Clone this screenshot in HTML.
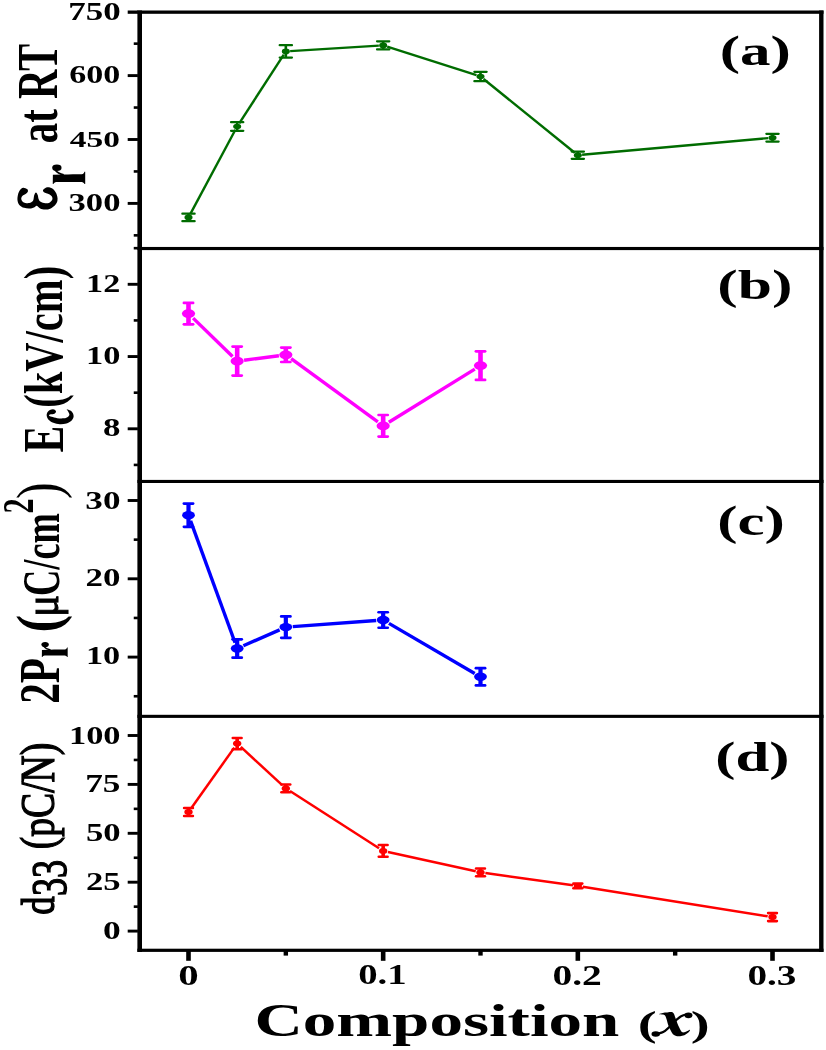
<!DOCTYPE html>
<html><head><meta charset="utf-8"><style>
html,body{margin:0;padding:0;background:#fff;}
svg{display:block;will-change:transform;}
text{font-family:"Liberation Serif",serif;fill:#000;}
</style></head><body>
<svg width="826" height="1050" viewBox="0 0 826 1050">
<rect width="826" height="1050" fill="#fff"/>
<rect x="137.40" y="10.50" width="4.60" height="941.40" fill="#000"/>
<rect x="819.10" y="10.50" width="4.40" height="941.40" fill="#000"/>
<rect x="137.40" y="10.50" width="686.10" height="3.30" fill="#000"/>
<rect x="137.40" y="246.95" width="686.10" height="3.15" fill="#000"/>
<rect x="137.40" y="479.90" width="686.10" height="3.10" fill="#000"/>
<rect x="137.40" y="714.80" width="686.10" height="3.10" fill="#000"/>
<rect x="137.40" y="948.70" width="686.10" height="3.20" fill="#000"/>
<rect x="127.70" y="10.50" width="10.20" height="3.30" fill="#000"/>
<rect x="127.70" y="74.15" width="10.20" height="2.90" fill="#000"/>
<rect x="127.70" y="138.05" width="10.20" height="2.90" fill="#000"/>
<rect x="127.70" y="201.95" width="10.20" height="2.90" fill="#000"/>
<rect x="133.75" y="42.35" width="4.15" height="2.60" fill="#000"/>
<rect x="133.75" y="106.25" width="4.15" height="2.60" fill="#000"/>
<rect x="133.75" y="170.15" width="4.15" height="2.60" fill="#000"/>
<rect x="133.75" y="234.05" width="4.15" height="2.60" fill="#000"/>
<rect x="127.70" y="282.85" width="10.20" height="2.90" fill="#000"/>
<rect x="127.70" y="355.10" width="10.20" height="2.90" fill="#000"/>
<rect x="127.70" y="427.35" width="10.20" height="2.90" fill="#000"/>
<rect x="133.75" y="246.88" width="4.15" height="2.60" fill="#000"/>
<rect x="133.75" y="319.12" width="4.15" height="2.60" fill="#000"/>
<rect x="133.75" y="391.38" width="4.15" height="2.60" fill="#000"/>
<rect x="133.75" y="463.62" width="4.15" height="2.60" fill="#000"/>
<rect x="127.70" y="499.05" width="10.20" height="2.90" fill="#000"/>
<rect x="127.70" y="577.35" width="10.20" height="2.90" fill="#000"/>
<rect x="127.70" y="655.65" width="10.20" height="2.90" fill="#000"/>
<rect x="133.75" y="538.35" width="4.15" height="2.60" fill="#000"/>
<rect x="133.75" y="616.65" width="4.15" height="2.60" fill="#000"/>
<rect x="133.75" y="694.95" width="4.15" height="2.60" fill="#000"/>
<rect x="127.70" y="734.05" width="10.20" height="2.90" fill="#000"/>
<rect x="127.70" y="782.95" width="10.20" height="2.90" fill="#000"/>
<rect x="127.70" y="831.85" width="10.20" height="2.90" fill="#000"/>
<rect x="127.70" y="880.75" width="10.20" height="2.90" fill="#000"/>
<rect x="127.70" y="929.65" width="10.20" height="2.90" fill="#000"/>
<rect x="133.75" y="758.65" width="4.15" height="2.60" fill="#000"/>
<rect x="133.75" y="807.55" width="4.15" height="2.60" fill="#000"/>
<rect x="133.75" y="856.45" width="4.15" height="2.60" fill="#000"/>
<rect x="133.75" y="905.35" width="4.15" height="2.60" fill="#000"/>
<rect x="186.20" y="950.00" width="4.60" height="10.80" fill="#000"/>
<rect x="380.87" y="950.00" width="4.60" height="10.80" fill="#000"/>
<rect x="575.53" y="950.00" width="4.60" height="10.80" fill="#000"/>
<rect x="770.20" y="950.00" width="4.60" height="10.80" fill="#000"/>
<rect x="283.63" y="950.00" width="4.40" height="5.60" fill="#000"/>
<rect x="478.30" y="950.00" width="4.40" height="5.60" fill="#000"/>
<rect x="672.97" y="950.00" width="4.40" height="5.60" fill="#000"/>
<line x1="190.26" y1="214.11" x2="235.41" y2="129.79" stroke="#006c00" stroke-width="2.4"/>
<line x1="239.22" y1="123.34" x2="283.78" y2="54.56" stroke="#006c00" stroke-width="2.4"/>
<line x1="290.12" y1="51.14" x2="378.88" y2="45.66" stroke="#006c00" stroke-width="2.4"/>
<line x1="387.18" y1="46.68" x2="476.48" y2="75.22" stroke="#006c00" stroke-width="2.4"/>
<line x1="483.59" y1="79.00" x2="574.74" y2="152.70" stroke="#006c00" stroke-width="2.4"/>
<line x1="582.11" y1="154.82" x2="768.22" y2="138.08" stroke="#006c00" stroke-width="2.4"/>
<rect x="187.20" y="213.65" width="2.60" height="7.50" fill="#006c00"/>
<rect x="181.25" y="212.55" width="14.50" height="2.20" rx="1.10" fill="#006c00"/>
<rect x="181.25" y="220.05" width="14.50" height="2.20" rx="1.10" fill="#006c00"/>
<ellipse cx="188.50" cy="217.40" rx="4.0" ry="2.8" fill="#006c00"/>
<rect x="235.87" y="122.15" width="2.60" height="8.70" fill="#006c00"/>
<rect x="229.92" y="121.05" width="14.50" height="2.20" rx="1.10" fill="#006c00"/>
<rect x="229.92" y="129.75" width="14.50" height="2.20" rx="1.10" fill="#006c00"/>
<ellipse cx="237.17" cy="126.50" rx="4.0" ry="2.8" fill="#006c00"/>
<rect x="284.53" y="45.20" width="2.60" height="12.40" fill="#006c00"/>
<rect x="278.58" y="44.10" width="14.50" height="2.20" rx="1.10" fill="#006c00"/>
<rect x="278.58" y="56.50" width="14.50" height="2.20" rx="1.10" fill="#006c00"/>
<ellipse cx="285.83" cy="51.40" rx="4.0" ry="2.8" fill="#006c00"/>
<rect x="381.87" y="41.35" width="2.60" height="8.10" fill="#006c00"/>
<rect x="375.92" y="40.25" width="14.50" height="2.20" rx="1.10" fill="#006c00"/>
<rect x="375.92" y="48.35" width="14.50" height="2.20" rx="1.10" fill="#006c00"/>
<ellipse cx="383.17" cy="45.40" rx="4.0" ry="2.8" fill="#006c00"/>
<rect x="479.20" y="71.85" width="2.60" height="9.30" fill="#006c00"/>
<rect x="473.25" y="70.75" width="14.50" height="2.20" rx="1.10" fill="#006c00"/>
<rect x="473.25" y="80.05" width="14.50" height="2.20" rx="1.10" fill="#006c00"/>
<ellipse cx="480.50" cy="76.50" rx="4.0" ry="2.8" fill="#006c00"/>
<rect x="576.53" y="151.60" width="2.60" height="7.20" fill="#006c00"/>
<rect x="570.58" y="150.50" width="14.50" height="2.20" rx="1.10" fill="#006c00"/>
<rect x="570.58" y="157.70" width="14.50" height="2.20" rx="1.10" fill="#006c00"/>
<ellipse cx="577.83" cy="155.20" rx="4.0" ry="2.8" fill="#006c00"/>
<rect x="771.20" y="133.80" width="2.60" height="7.80" fill="#006c00"/>
<rect x="765.25" y="132.70" width="14.50" height="2.20" rx="1.10" fill="#006c00"/>
<rect x="765.25" y="140.50" width="14.50" height="2.20" rx="1.10" fill="#006c00"/>
<ellipse cx="772.50" cy="137.70" rx="4.0" ry="2.8" fill="#006c00"/>
<line x1="193.12" y1="318.11" x2="232.55" y2="356.59" stroke="#ff00ff" stroke-width="3.4"/>
<line x1="244.09" y1="360.20" x2="278.91" y2="355.70" stroke="#ff00ff" stroke-width="3.4"/>
<line x1="291.16" y1="358.69" x2="377.84" y2="421.91" stroke="#ff00ff" stroke-width="3.4"/>
<line x1="388.84" y1="422.29" x2="474.82" y2="369.11" stroke="#ff00ff" stroke-width="3.4"/>
<rect x="186.20" y="302.90" width="4.60" height="21.40" fill="#ff00ff"/>
<rect x="182.55" y="301.55" width="11.90" height="2.70" rx="1.35" fill="#ff00ff"/>
<rect x="182.55" y="322.95" width="11.90" height="2.70" rx="1.35" fill="#ff00ff"/>
<ellipse cx="188.50" cy="313.60" rx="6.6" ry="4.4" fill="#ff00ff"/>
<rect x="234.87" y="346.60" width="4.60" height="29.00" fill="#ff00ff"/>
<rect x="231.22" y="345.25" width="11.90" height="2.70" rx="1.35" fill="#ff00ff"/>
<rect x="231.22" y="374.25" width="11.90" height="2.70" rx="1.35" fill="#ff00ff"/>
<ellipse cx="237.17" cy="361.10" rx="6.6" ry="4.4" fill="#ff00ff"/>
<rect x="283.53" y="347.60" width="4.60" height="14.40" fill="#ff00ff"/>
<rect x="279.88" y="346.25" width="11.90" height="2.70" rx="1.35" fill="#ff00ff"/>
<rect x="279.88" y="360.65" width="11.90" height="2.70" rx="1.35" fill="#ff00ff"/>
<ellipse cx="285.83" cy="354.80" rx="6.6" ry="4.4" fill="#ff00ff"/>
<rect x="380.87" y="415.00" width="4.60" height="21.60" fill="#ff00ff"/>
<rect x="377.22" y="413.65" width="11.90" height="2.70" rx="1.35" fill="#ff00ff"/>
<rect x="377.22" y="435.25" width="11.90" height="2.70" rx="1.35" fill="#ff00ff"/>
<ellipse cx="383.17" cy="425.80" rx="6.6" ry="4.4" fill="#ff00ff"/>
<rect x="478.20" y="351.30" width="4.60" height="28.60" fill="#ff00ff"/>
<rect x="474.55" y="349.95" width="11.90" height="2.70" rx="1.35" fill="#ff00ff"/>
<rect x="474.55" y="378.55" width="11.90" height="2.70" rx="1.35" fill="#ff00ff"/>
<ellipse cx="480.50" cy="365.60" rx="6.6" ry="4.4" fill="#ff00ff"/>
<line x1="190.59" y1="520.93" x2="235.08" y2="642.77" stroke="#0000ff" stroke-width="3.4"/>
<line x1="243.39" y1="645.76" x2="279.61" y2="629.84" stroke="#0000ff" stroke-width="3.4"/>
<line x1="292.81" y1="626.59" x2="376.19" y2="620.51" stroke="#0000ff" stroke-width="3.4"/>
<line x1="388.95" y1="623.38" x2="474.71" y2="673.42" stroke="#0000ff" stroke-width="3.4"/>
<rect x="186.40" y="503.60" width="4.20" height="23.20" fill="#0000ff"/>
<rect x="182.55" y="502.25" width="11.90" height="2.70" rx="1.35" fill="#0000ff"/>
<rect x="182.55" y="525.45" width="11.90" height="2.70" rx="1.35" fill="#0000ff"/>
<ellipse cx="188.50" cy="515.20" rx="6.4" ry="4.2" fill="#0000ff"/>
<rect x="235.07" y="639.30" width="4.20" height="18.40" fill="#0000ff"/>
<rect x="231.22" y="637.95" width="11.90" height="2.70" rx="1.35" fill="#0000ff"/>
<rect x="231.22" y="656.35" width="11.90" height="2.70" rx="1.35" fill="#0000ff"/>
<ellipse cx="237.17" cy="648.50" rx="6.4" ry="4.2" fill="#0000ff"/>
<rect x="283.73" y="616.40" width="4.20" height="21.40" fill="#0000ff"/>
<rect x="279.88" y="615.05" width="11.90" height="2.70" rx="1.35" fill="#0000ff"/>
<rect x="279.88" y="636.45" width="11.90" height="2.70" rx="1.35" fill="#0000ff"/>
<ellipse cx="285.83" cy="627.10" rx="6.4" ry="4.2" fill="#0000ff"/>
<rect x="381.07" y="612.25" width="4.20" height="15.50" fill="#0000ff"/>
<rect x="377.22" y="610.90" width="11.90" height="2.70" rx="1.35" fill="#0000ff"/>
<rect x="377.22" y="626.40" width="11.90" height="2.70" rx="1.35" fill="#0000ff"/>
<ellipse cx="383.17" cy="620.00" rx="6.4" ry="4.2" fill="#0000ff"/>
<rect x="478.40" y="668.20" width="4.20" height="17.20" fill="#0000ff"/>
<rect x="474.55" y="666.85" width="11.90" height="2.70" rx="1.35" fill="#0000ff"/>
<rect x="474.55" y="684.05" width="11.90" height="2.70" rx="1.35" fill="#0000ff"/>
<ellipse cx="480.50" cy="676.80" rx="6.4" ry="4.2" fill="#0000ff"/>
<line x1="191.38" y1="807.95" x2="234.29" y2="747.65" stroke="#ff0000" stroke-width="2.5"/>
<line x1="240.80" y1="746.95" x2="282.20" y2="785.05" stroke="#ff0000" stroke-width="2.5"/>
<line x1="289.98" y1="791.06" x2="379.02" y2="848.24" stroke="#ff0000" stroke-width="2.5"/>
<line x1="387.96" y1="851.96" x2="475.71" y2="871.34" stroke="#ff0000" stroke-width="2.5"/>
<line x1="485.36" y1="873.07" x2="572.98" y2="885.23" stroke="#ff0000" stroke-width="2.5"/>
<line x1="582.67" y1="886.68" x2="767.66" y2="916.32" stroke="#ff0000" stroke-width="2.5"/>
<rect x="186.70" y="808.00" width="3.60" height="8.00" fill="#ff0000"/>
<rect x="182.80" y="806.70" width="11.40" height="2.60" rx="1.30" fill="#ff0000"/>
<rect x="182.80" y="814.70" width="11.40" height="2.60" rx="1.30" fill="#ff0000"/>
<ellipse cx="188.50" cy="812.00" rx="4.2" ry="3.0" fill="#ff0000"/>
<rect x="235.37" y="738.00" width="3.60" height="11.20" fill="#ff0000"/>
<rect x="231.47" y="736.70" width="11.40" height="2.60" rx="1.30" fill="#ff0000"/>
<rect x="231.47" y="747.90" width="11.40" height="2.60" rx="1.30" fill="#ff0000"/>
<ellipse cx="237.17" cy="743.60" rx="4.2" ry="3.0" fill="#ff0000"/>
<rect x="284.03" y="784.50" width="3.60" height="7.80" fill="#ff0000"/>
<rect x="280.13" y="783.20" width="11.40" height="2.60" rx="1.30" fill="#ff0000"/>
<rect x="280.13" y="791.00" width="11.40" height="2.60" rx="1.30" fill="#ff0000"/>
<ellipse cx="285.83" cy="788.40" rx="4.2" ry="3.0" fill="#ff0000"/>
<rect x="381.37" y="845.00" width="3.60" height="11.80" fill="#ff0000"/>
<rect x="377.47" y="843.70" width="11.40" height="2.60" rx="1.30" fill="#ff0000"/>
<rect x="377.47" y="855.50" width="11.40" height="2.60" rx="1.30" fill="#ff0000"/>
<ellipse cx="383.17" cy="850.90" rx="4.2" ry="3.0" fill="#ff0000"/>
<rect x="478.70" y="868.50" width="3.60" height="7.80" fill="#ff0000"/>
<rect x="474.80" y="867.20" width="11.40" height="2.60" rx="1.30" fill="#ff0000"/>
<rect x="474.80" y="875.00" width="11.40" height="2.60" rx="1.30" fill="#ff0000"/>
<ellipse cx="480.50" cy="872.40" rx="4.2" ry="3.0" fill="#ff0000"/>
<rect x="576.03" y="883.60" width="3.60" height="4.60" fill="#ff0000"/>
<rect x="572.13" y="882.30" width="11.40" height="2.60" rx="1.30" fill="#ff0000"/>
<rect x="572.13" y="886.90" width="11.40" height="2.60" rx="1.30" fill="#ff0000"/>
<ellipse cx="577.83" cy="885.90" rx="4.2" ry="3.0" fill="#ff0000"/>
<rect x="770.70" y="913.10" width="3.60" height="8.00" fill="#ff0000"/>
<rect x="766.80" y="911.80" width="11.40" height="2.60" rx="1.30" fill="#ff0000"/>
<rect x="766.80" y="919.80" width="11.40" height="2.60" rx="1.30" fill="#ff0000"/>
<ellipse cx="772.50" cy="917.10" rx="4.2" ry="3.0" fill="#ff0000"/>
<path d="M52.90,409.14 C52.03,409.14 50.75,409.36 49.85,409.88 C48.94,410.41 47.97,411.30 47.45,412.28 C46.93,413.26 46.53,414.53 46.71,415.77 C46.89,417.00 47.43,418.53 48.54,419.69 C49.64,420.86 51.44,422.00 53.33,422.74 C55.22,423.49 57.69,424.03 59.87,424.14 C62.05,424.25 64.49,423.96 66.41,423.40 C68.34,422.84 70.23,421.87 71.42,420.78 C72.62,419.69 73.39,418.17 73.60,416.86 C73.82,415.55 73.28,413.99 72.73,412.94 C72.19,411.88 71.33,411.17 70.33,410.54 C69.34,409.91 67.12,409.00 66.76,409.14 C66.40,409.29 67.72,410.56 68.16,411.41 C68.59,412.26 69.38,413.37 69.38,414.24 C69.38,415.12 69.09,415.97 68.16,416.64 C67.23,417.32 65.61,418.04 63.80,418.30 C61.98,418.55 59.29,418.41 57.26,418.17 C55.22,417.93 52.97,417.32 51.59,416.86 C50.21,416.40 49.12,415.84 48.97,415.42 C48.83,415.01 49.81,414.67 50.72,414.37 C51.63,414.08 53.54,414.10 54.42,413.68 C55.31,413.26 55.93,412.48 56.04,411.85 C56.15,411.21 55.60,410.34 55.08,409.88 C54.55,409.43 53.77,409.14 52.90,409.14 Z" fill="#000"/>
<g transform="translate(47.837,160.073) scale(0.05133,0.05091)"><path d="M98,290 L300,284 C420,282 560,282 660,280 C690,276 705,256 712,230 L728,230 L728,470 L714,470 C705,448 688,436 655,432 L165,432 C135,436 118,452 110,470 L96,470 Z" fill="#000"/><ellipse cx="176" cy="150" rx="91" ry="65" fill="#000"/><path d="M140,190 C180,245 220,274 310,288" fill="none" stroke="#000" stroke-width="34"/></g>
<g transform="translate(37.926,638.544) scale(0.04087,0.03948)"><path d="M98,290 L300,284 C420,282 560,282 660,280 C690,276 705,256 712,230 L728,230 L728,470 L714,470 C705,448 688,436 655,432 L165,432 C135,436 118,452 110,470 L96,470 Z" fill="#000"/><ellipse cx="176" cy="150" rx="91" ry="65" fill="#000"/><path d="M140,190 C180,245 220,274 310,288" fill="none" stroke="#000" stroke-width="34"/></g>
<path d="M23.19,187.78 C24.37,187.62 26.30,188.52 27.08,189.12 C27.87,189.72 28.11,190.65 27.92,191.40 C27.73,192.15 26.69,193.05 25.97,193.63 C25.25,194.21 24.31,194.36 23.60,194.88 C22.90,195.39 22.14,196.03 21.75,196.73 C21.36,197.43 21.13,198.29 21.25,199.09 C21.37,199.88 21.77,200.84 22.45,201.49 C23.14,202.14 24.21,202.73 25.36,203.00 C26.51,203.26 28.21,203.33 29.37,203.10 C30.52,202.86 31.59,202.21 32.27,201.59 C32.96,200.97 33.14,200.48 33.48,199.39 C33.81,198.29 33.86,196.17 34.27,195.02 C34.68,193.88 35.36,192.52 35.94,192.52 C36.51,192.52 37.26,193.89 37.72,195.02 C38.18,196.15 38.20,198.17 38.69,199.31 C39.18,200.45 39.54,201.20 40.64,201.87 C41.73,202.53 43.73,203.22 45.25,203.30 C46.77,203.39 48.58,203.01 49.76,202.38 C50.93,201.75 51.96,200.48 52.32,199.51 C52.67,198.55 52.36,197.44 51.91,196.59 C51.45,195.75 50.54,195.00 49.60,194.44 C48.66,193.89 47.21,193.65 46.27,193.26 C45.33,192.88 44.50,192.68 43.97,192.14 C43.43,191.59 42.57,190.83 43.06,190.01 C43.56,189.19 45.48,187.52 46.96,187.23 C48.45,186.93 50.58,187.47 51.97,188.23 C53.37,188.99 54.44,190.48 55.31,191.79 C56.19,193.11 56.85,194.65 57.21,196.14 C57.56,197.62 57.76,199.22 57.43,200.70 C57.10,202.19 56.32,203.76 55.20,205.04 C54.09,206.33 52.42,207.62 50.75,208.39 C49.08,209.15 46.94,209.59 45.18,209.61 C43.42,209.63 41.56,209.15 40.17,208.50 C38.78,207.85 37.85,205.90 36.83,205.71 C35.81,205.53 35.25,206.92 34.04,207.38 C32.84,207.85 31.26,208.42 29.59,208.50 C27.92,208.57 25.69,208.39 24.02,207.83 C22.35,207.27 20.64,206.34 19.57,205.16 C18.49,203.97 17.84,202.39 17.56,200.70 C17.29,199.01 17.49,196.79 17.90,195.02 C18.31,193.26 19.13,191.33 20.01,190.12 C20.89,188.92 22.01,187.95 23.19,187.78 Z" fill="#000"/>
<path d="M658.77,1014.30 C658.57,1014.07 660.69,1013.49 661.92,1013.21 C663.15,1012.92 664.34,1012.72 666.16,1012.60 C667.98,1012.48 671.28,1011.63 672.82,1012.48 C674.35,1013.33 674.57,1015.79 675.36,1017.69 C676.15,1019.58 676.77,1021.96 677.54,1023.86 C678.31,1025.76 679.23,1027.71 679.96,1029.07 C680.69,1030.42 681.17,1031.43 681.90,1031.97 C682.62,1032.52 683.41,1032.48 684.32,1032.33 C685.23,1032.19 686.44,1031.55 687.35,1031.12 C688.25,1030.70 689.38,1029.83 689.77,1029.79 C690.15,1029.75 690.05,1030.30 689.65,1030.88 C689.24,1031.47 688.23,1032.58 687.35,1033.30 C686.46,1034.03 685.53,1034.77 684.32,1035.24 C683.11,1035.71 681.44,1036.03 680.08,1036.15 C678.72,1036.27 677.34,1036.30 676.15,1035.97 C674.96,1035.63 673.85,1035.06 672.94,1034.15 C672.03,1033.24 671.48,1032.00 670.70,1030.52 C669.92,1029.04 668.95,1027.09 668.28,1025.25 C667.60,1023.42 667.16,1021.09 666.64,1019.50 C666.13,1017.92 665.78,1016.58 665.19,1015.75 C664.61,1014.92 664.20,1014.78 663.13,1014.54 C662.06,1014.30 658.98,1014.52 658.77,1014.30 Z" fill="#000"/>
<path d="M657.99,1033.73 C658.85,1033.45 661.57,1032.90 663.13,1032.09 C664.70,1031.28 665.86,1030.26 667.37,1028.88 C668.88,1027.51 670.70,1025.37 672.21,1023.86 C673.73,1022.35 675.04,1021.03 676.45,1019.80 C677.86,1018.57 679.28,1017.31 680.69,1016.47 C682.10,1015.64 683.71,1015.06 684.92,1014.78 C686.14,1014.50 687.45,1014.78 687.95,1014.78 " fill="none" stroke="#000" stroke-width="2.2" stroke-linecap="round"/>
<ellipse cx="655.75" cy="1033.91" rx="4.24" ry="2.78" fill="#000"/>
<ellipse cx="688.44" cy="1015.38" rx="4.00" ry="2.78" fill="#000"/>
<text transform="translate(69.31,83.05) scale(1.3840,1.0000)" font-size="24.59" font-weight="bold">600</text>
<text transform="translate(69.80,146.86) scale(1.4014,1.0000)" font-size="23.85" font-weight="bold">450</text>
<text transform="translate(68.28,19.65) scale(1.3958,1.0000)" font-size="25.04" font-weight="bold">750</text>
<text transform="translate(86.07,291.80) scale(1.3505,1.0000)" font-size="25.30" font-weight="bold">12</text>
<text transform="translate(68.55,210.62) scale(1.3744,1.0000)" font-size="25.20" font-weight="bold">300</text>
<text transform="translate(86.05,363.55) scale(1.3917,1.0000)" font-size="24.74" font-weight="bold">10</text>
<text transform="translate(103.08,435.55) scale(1.4100,1.0000)" font-size="24.74" font-weight="bold">8</text>
<text transform="translate(85.34,508.78) scale(1.4334,1.0000)" font-size="24.48" font-weight="bold">30</text>
<text transform="translate(85.59,586.22) scale(1.3731,1.0000)" font-size="25.42" font-weight="bold">20</text>
<text transform="translate(85.95,664.25) scale(1.3547,1.0000)" font-size="25.33" font-weight="bold">10</text>
<text transform="translate(68.95,743.55) scale(1.3587,1.0000)" font-size="25.33" font-weight="bold">100</text>
<text transform="translate(85.16,791.75) scale(1.4303,1.0000)" font-size="24.66" font-weight="bold">75</text>
<text transform="translate(86.01,840.95) scale(1.3768,1.0000)" font-size="25.19" font-weight="bold">50</text>
<text transform="translate(85.98,889.81) scale(1.4184,1.0000)" font-size="24.43" font-weight="bold">25</text>
<text transform="translate(103.02,938.56) scale(1.3876,1.0000)" font-size="25.53" font-weight="bold">0</text>
<text transform="translate(552.44,985.29) scale(1.3448,1.0000)" font-size="29.39" font-weight="bold">0.2</text>
<text transform="translate(747.43,984.57) scale(1.3543,1.0000)" font-size="28.97" font-weight="bold">0.3</text>
<text transform="translate(178.18,984.82) scale(1.3474,1.0000)" font-size="30.37" font-weight="bold">0</text>
<text transform="translate(358.15,984.37) scale(1.3459,1.0000)" font-size="28.82" font-weight="bold">0.1</text>
<text transform="translate(719.68,65.33) scale(1.4239,1.0000)" font-size="42.89" font-weight="bold">(a)</text>
<text transform="translate(717.24,298.96) scale(1.4440,1.0000)" font-size="42.58" font-weight="bold">(b)</text>
<text transform="translate(717.25,534.72) scale(1.4602,1.0000)" font-size="41.76" font-weight="bold">(c)</text>
<text transform="translate(715.16,771.31) scale(1.4361,1.0000)" font-size="42.33" font-weight="bold">(d)</text>
<text transform="translate(254.39,1036.49) scale(1.4214,1.0000)" font-size="47.16" font-weight="bold">Composition</text>
<text transform="translate(637.72,1035.73) scale(1.6229,1.0000)" font-size="35.17" font-weight="bold">(</text>
<text transform="translate(690.80,1035.75) scale(1.6024,1.0000)" font-size="35.49" font-weight="bold">)</text>
<text transform="translate(56.88,143.13) rotate(-90) scale(1.0000,1.3992)" font-size="40.82" font-weight="bold">at RT</text>
<text transform="translate(62.60,452.50) rotate(-90) scale(1.0000,1.4313)" font-size="40.00" font-weight="bold">E</text>
<text transform="translate(62.49,407.83) rotate(-90) scale(1.0000,1.3743)" font-size="40.59" font-weight="bold">(kV/cm)</text>
<text transform="translate(58.70,703.85) rotate(-90) scale(1.0000,1.3815)" font-size="41.35" font-weight="bold">2P</text>
<text transform="translate(58.62,632.42) rotate(-90) scale(1.0000,1.1418)" font-size="53.07" font-weight="bold">(</text>
<text transform="translate(58.11,617.11) rotate(-90) scale(1.0000,1.2011)" font-size="41.22" font-weight="normal" stroke="#000" stroke-width="0.9">&#956;</text>
<text transform="translate(59.34,595.89) rotate(-90) scale(1.0000,1.4802)" font-size="36.37" font-weight="bold">C/cm</text>
<text transform="translate(33.40,513.61) rotate(-90) scale(1.0000,1.4472)" font-size="30.36" font-weight="bold">2</text>
<text transform="translate(58.82,498.91) rotate(-90) scale(1.0000,1.2173)" font-size="50.38" font-weight="normal">)</text>
<text transform="translate(54.38,914.79) rotate(-90) scale(1.0000,1.2803)" font-size="36.73" font-weight="normal" stroke="#000" stroke-width="1.0">d</text>
<text transform="translate(65.94,895.98) rotate(-90) scale(1.0000,1.3805)" font-size="36.17" font-weight="normal" stroke="#000" stroke-width="1.0">33</text>
<text transform="translate(54.06,849.31) rotate(-90) scale(1.0000,1.2670)" font-size="37.66" font-weight="normal" stroke="#000" stroke-width="1.0">(pC/N)</text>
</svg>
</body></html>
